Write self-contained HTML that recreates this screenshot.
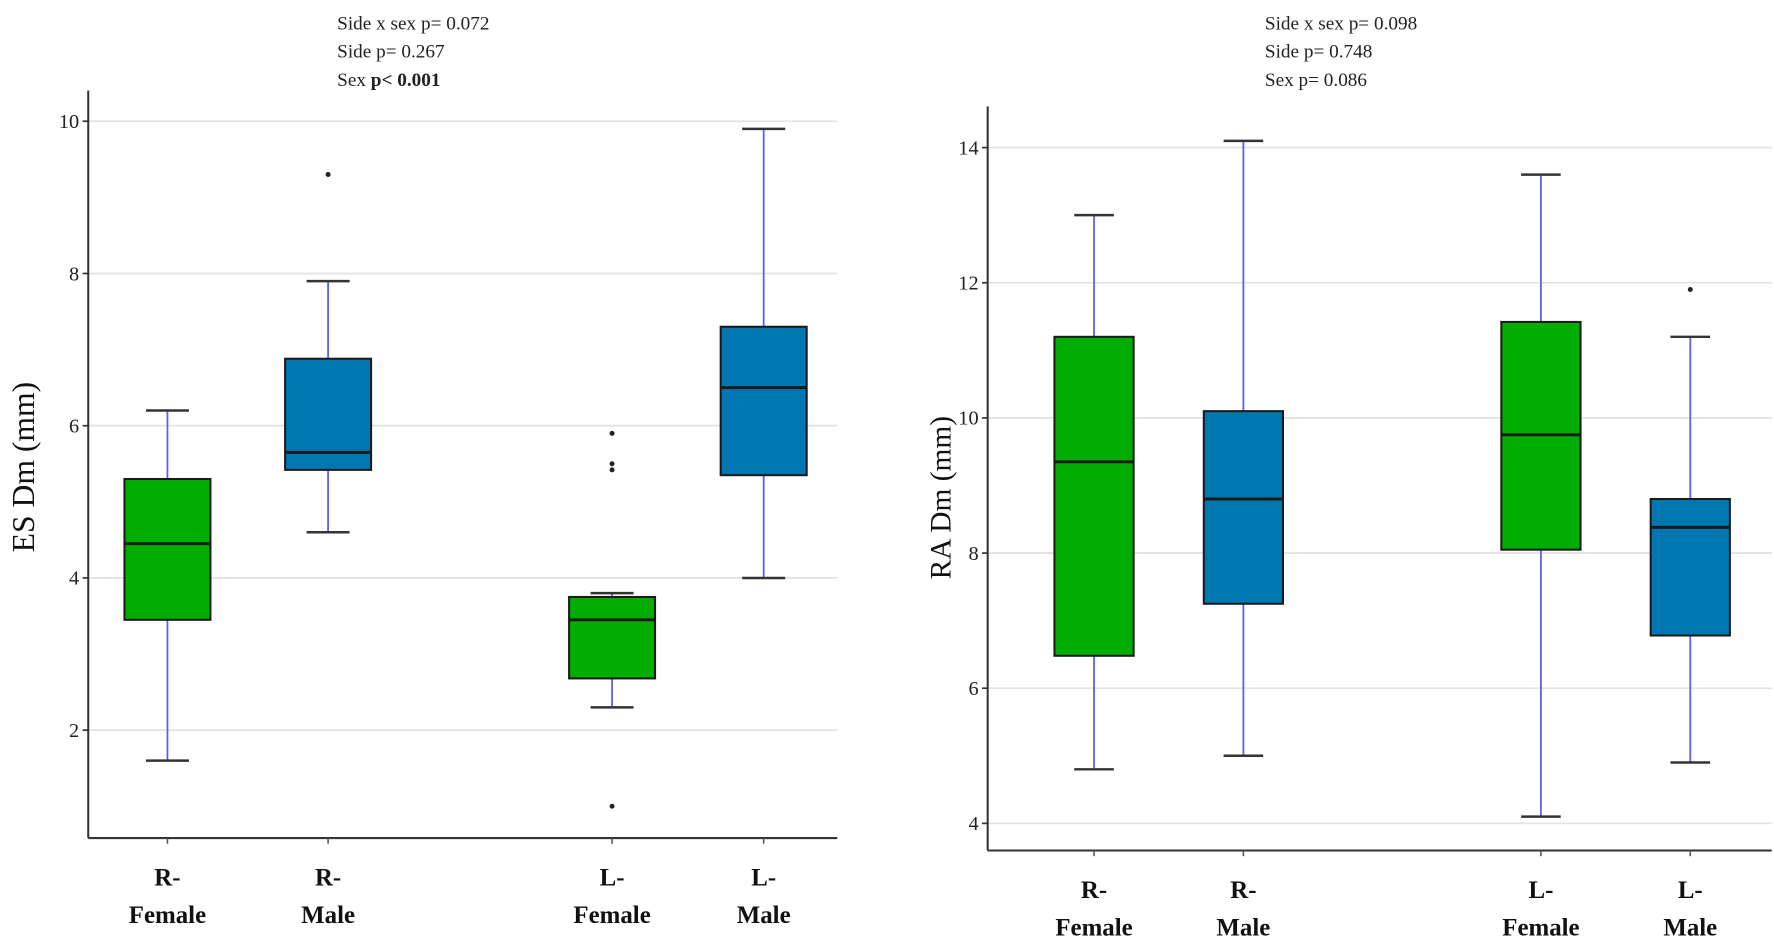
<!DOCTYPE html>
<html><head><meta charset="utf-8"><style>
html,body{margin:0;padding:0;background:#fff;}
svg{display:block;font-family:"Liberation Serif",serif;}
</style></head><body>
<svg id="chart" width="1774" height="941" viewBox="0 0 1568 832" preserveAspectRatio="none" xmlns="http://www.w3.org/2000/svg"></svg>
<script>
const categories = ["R-|Female","R-|Male","L-|Female","L-|Male"];
const boxColors = ["#00ad00","#0077b0","#00ad00","#0077b0"];
// ES Dm panel: [lowWhisker, q1, median, q3, highWhisker]
const esStats = [[1.6,3.45,4.45,5.3,6.2],[4.6,5.42,5.65,6.88,7.9],[2.3,2.68,3.45,3.75,3.8],[4.0,5.35,6.5,7.3,9.9]];
const esOutliers = [[],[9.3],[5.9,5.5,5.42,1.0],[]];
const esTicks = [2,4,6,8,10];
const esNotes = ["Side x sex p= 0.072","Side p= 0.267","Sex |p< 0.001"];
// RA Dm panel
const raStats = [[4.8,6.48,9.35,11.2,13.0],[5.0,7.25,8.8,10.1,14.1],[4.1,8.05,9.75,11.42,13.6],[4.9,6.78,8.38,8.8,11.2]];
const raOutliers = [[],[],[],[11.9]];
const raTicks = [4,6,8,10,12,14];
const raNotes = ["Side x sex p= 0.098","Side p= 0.748","Sex p= 0.086"];

const svg = document.getElementById('chart');
const NS = "http://www.w3.org/2000/svg";
function mk(tag, attrs, parent){const e=document.createElementNS(NS,tag);for(const k in attrs)e.setAttribute(k,attrs[k]);(parent||svg).appendChild(e);return e;}

function panel(cfg){
  const g = mk('g',{});
  
  
  const y = v => cfg.y0 - (v - cfg.v0) * cfg.ppu;
  cfg.ticks.forEach(t=>{
    const gl = mk('line',{x1:cfg.ax,x2:cfg.right,y1:y(t),y2:y(t),stroke:'#e3e3e3','stroke-width':1.6},g);
    
    
    mk('line',{x1:cfg.ax-5,x2:cfg.ax,y1:y(t),y2:y(t),stroke:'#333','stroke-width':1.5},g);
    const tl = mk('text',{x:cfg.ax-8,y:y(t)+6,'text-anchor':'end','font-size':18,fill:'#222'},g);
    tl.textContent = t;
    
    
  });
  const ya = mk('line',{x1:cfg.ax,x2:cfg.ax,y1:cfg.top,y2:cfg.axY,stroke:'#333','stroke-width':1.8},g);
  
  
  const xa = mk('line',{x1:cfg.ax,x2:cfg.right,y1:cfg.axY,y2:cfg.axY,stroke:'#333','stroke-width':1.8},g);
  
  
  cfg.stats.forEach((s,i)=>{
    const cx = cfg.centers[i], bw = cfg.bw, cw = cfg.bw/2;
    const bg = mk('g',{},g);
    
    
    mk('line',{x1:cx,x2:cx,y1:y(s[0]),y2:y(s[4]),stroke:'#6060f0','stroke-width':1.6},bg);
    mk('line',{x1:cx-cw/2,x2:cx+cw/2,y1:y(s[0]),y2:y(s[0]),stroke:'#333','stroke-width':2.2},bg);
    mk('line',{x1:cx-cw/2,x2:cx+cw/2,y1:y(s[4]),y2:y(s[4]),stroke:'#333','stroke-width':2.2},bg);
    mk('rect',{x:cx-bw/2,y:y(s[3]),width:bw,height:y(s[1])-y(s[3]),fill:boxColors[i],stroke:'#1a1a1a','stroke-width':1.8},bg);
    mk('line',{x1:cx-bw/2,x2:cx+bw/2,y1:y(s[2]),y2:y(s[2]),stroke:'#1a1a1a','stroke-width':2.6},bg);
    cfg.outliers[i].forEach(o=>{
      const c = mk('circle',{cx:cx,cy:y(o),r:2.2,fill:'#222'},bg);
      
      
    });
    mk('line',{x1:cx,x2:cx,y1:cfg.axY,y2:cfg.axY+5,stroke:'#555','stroke-width':1.4},g);
    const parts = categories[i].split('|');
    const t1 = mk('text',{x:cx,y:cfg.axY+42,'text-anchor':'middle','font-size':22,'font-weight':'bold',fill:'#111'},g);
    t1.textContent = parts[0];
    
    
    const t2 = mk('text',{x:cx,y:cfg.axY+75,'text-anchor':'middle','font-size':22,'font-weight':'bold',fill:'#111'},g);
    t2.textContent = parts[1];
    
    
  });
  const yt = mk('text',{x:0,y:0,'text-anchor':'middle','font-size':cfg.titleSize,fill:'#111',transform:`translate(${cfg.titleX},${cfg.titleY}) rotate(-90)`},g);
  yt.textContent = cfg.title;
  
  
  cfg.notes.forEach((n,k)=>{
    const t = mk('text',{x:cfg.noteX,y:26+k*25,'font-size':17,fill:'#222'},g);
    
    
    if(n.includes('|')){const p=n.split('|');t.textContent=p[0];const b=mk('tspan',{'font-weight':'bold'},t);b.textContent=p[1];}
    else t.textContent=n;
  });
}

panel({name:'es-dm-panel',ax:78,right:740,top:80,axY:741,y0:511,v0:4,ppu:67.3,ticks:esTicks,stats:esStats,outliers:esOutliers,
  centers:[148,290,541,675],bw:76,title:'ES Dm (mm)',titleSize:28,titleX:30,titleY:413,notes:esNotes,noteX:298});
panel({name:'ra-dm-panel',ax:873,right:1566,top:94,axY:752,y0:728,v0:4,ppu:59.75,ticks:raTicks,stats:raStats,outliers:raOutliers,
  centers:[967,1099,1362,1494],bw:70,title:'RA Dm (mm)',titleSize:26,titleX:840,titleY:440,notes:raNotes,noteX:1118});
</script>
</body></html>
